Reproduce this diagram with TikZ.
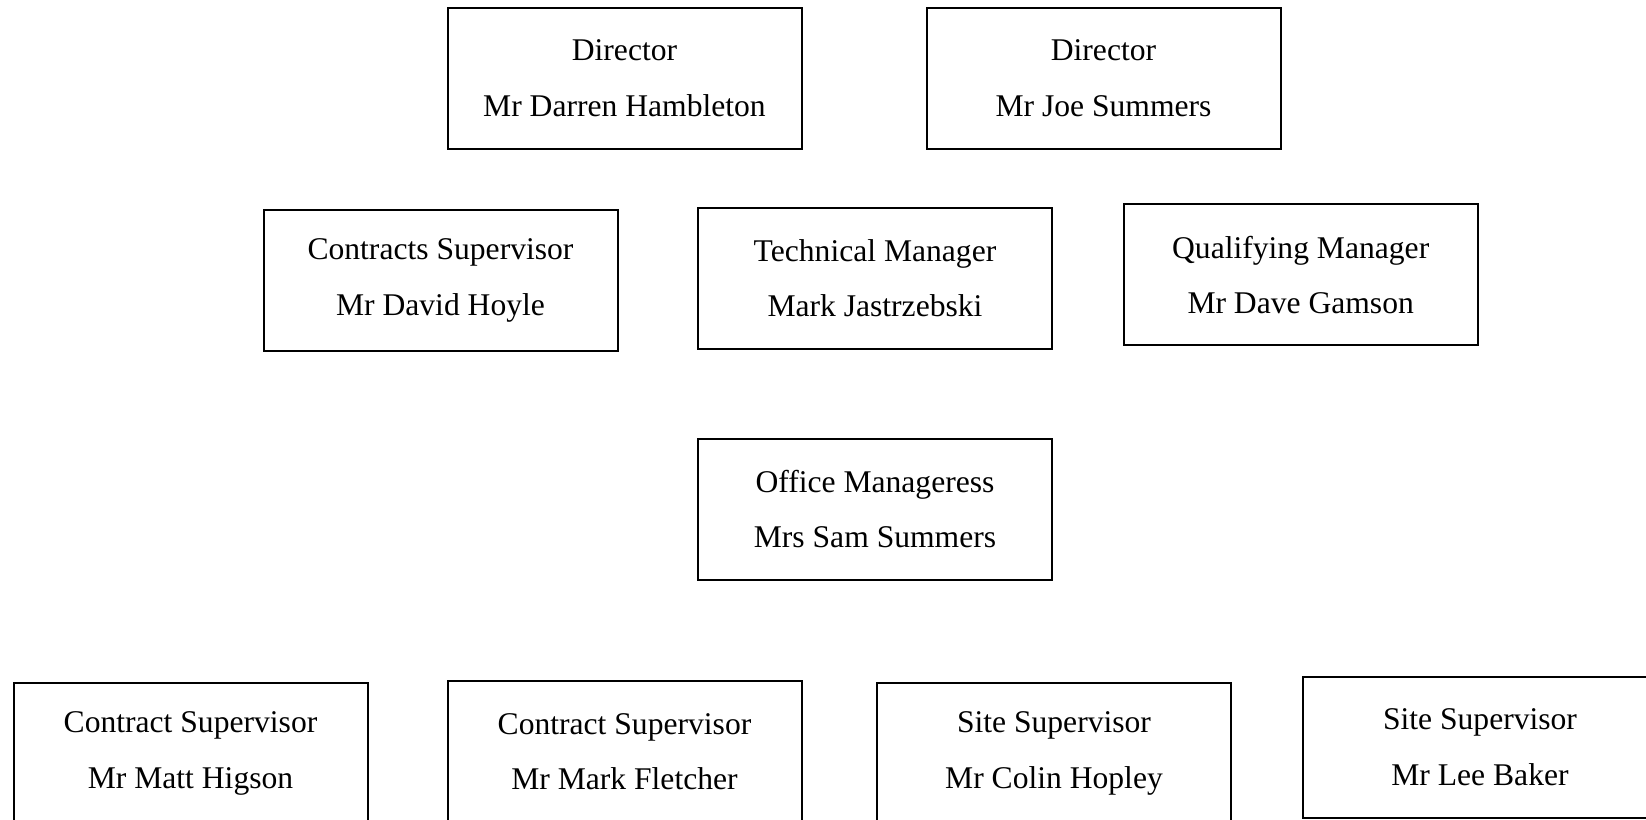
\documentclass[tikz,border=0pt]{standalone}
\usepackage{fontspec}
\setmainfont{Liberation Serif}
\begin{document}
\begin{tikzpicture}[x=0.5pt,y=-0.5pt,
  orgbox/.style={draw=black, line width=1pt, inner sep=0pt,
    minimum width=177pt, minimum height=70.5pt, align=center,
    font=\fontsize{15.8pt}{27.8pt}\selectfont}]
\useasboundingbox (0,0) rectangle (1646,820);
\node[orgbox] (d1) at (624.5,78) {Director\\Mr Darren Hambleton};
\node[orgbox] (d2) at (1103.5,78) {Director\\Mr Joe Summers};
\node[orgbox] (cs) at (440.5,280.4) {Contracts Supervisor\\Mr David Hoyle};
\node[orgbox] (tm) at (875,278.3) {Technical Manager\\Mark Jastrzebski};
\node[orgbox] (qm) at (1300.7,274.9) {Qualifying Manager\\Mr Dave Gamson};
\node[orgbox] (om) at (875,509) {Office Manageress\\Mrs Sam Summers};
\node[orgbox] (c1) at (190.5,753.5) {Contract Supervisor\\Mr Matt Higson};
\node[orgbox] (c2) at (624.5,751.5) {Contract Supervisor\\Mr Mark Fletcher};
\node[orgbox] (s1) at (1054,753.5) {Site Supervisor\\Mr Colin Hopley};
\node[orgbox] (s2) at (1480,747) {Site Supervisor\\Mr Lee Baker};
\end{tikzpicture}
\end{document}
